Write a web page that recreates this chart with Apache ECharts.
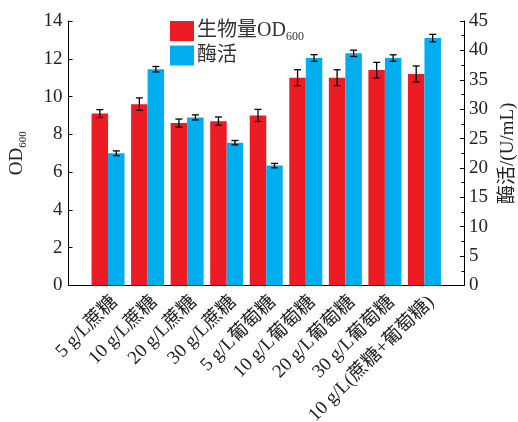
<!DOCTYPE html>
<html>
<head>
<meta charset="utf-8">
<script src="https://cdn.jsdelivr.net/npm/echarts@6/dist/echarts.min.js"></script>
<style>html,body{margin:0;padding:0;background:#fff;}#c{width:518px;height:422px;}</style>
</head>
<body>
<div id="c"></div>
<script>
const categories = ['5 g/L蔗糖','10 g/L蔗糖','20 g/L蔗糖','30 g/L蔗糖','5 g/L葡萄糖','10 g/L葡萄糖','20 g/L葡萄糖','30 g/L葡萄糖','10 g/L(蔗糖+葡萄糖)'];
const od600 = [9.1, 9.6, 8.6, 8.7, 9.0, 11.0, 11.0, 11.4, 11.2];
const od600Err = [0.21, 0.33, 0.21, 0.22, 0.32, 0.42, 0.42, 0.41, 0.42];
const enzyme = [22.5, 36.8, 28.6, 24.3, 20.4, 38.7, 39.5, 38.7, 42.1];
const enzymeErr = [0.4, 0.46, 0.43, 0.37, 0.37, 0.57, 0.54, 0.55, 0.63];
const leftTicks = {min: 0, max: 14, interval: 2};
const rightTicks = {min: 0, max: 45, interval: 5};

const FONT = '"Liberation Serif", "Noto Sans CJK SC", serif';
const TXT = '#222';
const RED = '#ED1C24', BLUE = '#00AEEF';
const BW = 16.5;

const xData = [''].concat(categories, ['']);
const odData = [null].concat(od600, [null]);
const enData = [null].concat(enzyme, [null]);

function errData(vals, errs) {
  return vals.map((v, i) => [i + 1, v, errs[i]]);
}
function errRender(offset) {
  return function (params, api) {
    const x = api.value(0), v = api.value(1), e = api.value(2);
    const hi = api.coord([x, v + e]);
    const lo = api.coord([x, v - e]);
    const cx = hi[0] + offset;
    const cap = 3.5;
    const st = {stroke: '#000', lineWidth: 1.3};
    return {type: 'group', children: [
      {type: 'line', shape: {x1: cx, y1: hi[1], x2: cx, y2: lo[1]}, style: st},
      {type: 'line', shape: {x1: cx - cap, y1: hi[1], x2: cx + cap, y2: hi[1]}, style: st},
      {type: 'line', shape: {x1: cx - cap, y1: lo[1], x2: cx + cap, y2: lo[1]}, style: st}
    ]};
  };
}

const chart = echarts.init(document.getElementById('c'), null, {renderer: 'canvas'});
chart.setOption({
  animation: false,
  textStyle: {fontFamily: FONT, color: TXT},
  grid: {left: 68.5, right: 54, top: 21, bottom: 136.5, containLabel: false, outerBoundsMode: 'none'},
  legend: {
    orient: 'vertical', left: 165, top: 16, itemWidth: 24, itemHeight: 20, itemGap: 3,
    icon: 'rect',
    data: ['生物量OD600', '酶活'],
    formatter: function (n) { return n === '生物量OD600' ? '{a|生物量OD}{s|600}' : '{a|' + n + '}'; },
    textStyle: {
      fontFamily: FONT, color: '#333', padding: [0, 0, 0, -2],
      rich: {
        a: {fontFamily: FONT, fontSize: 20, color: '#333'},
        s: {fontFamily: FONT, fontSize: 12, color: '#333', padding: [11, 0, 0, 0]}
      }
    }
  },
  xAxis: {
    type: 'category', data: xData, boundaryGap: false,
    axisLine: {lineStyle: {color: '#000', width: 1}},
    axisTick: {show: false},
    axisLabel: {interval: 0, rotate: 45, fontSize: 19, color: TXT, fontFamily: FONT, margin: 7, verticalAlign: 'top'}
  },
  yAxis: [
    {
      type: 'value', min: leftTicks.min, max: leftTicks.max, interval: leftTicks.interval,
      name: '{a|OD}{s|600}', nameLocation: 'middle', nameRotate: 90, nameGap: 40,
      nameTextStyle: {rich: {a: {fontFamily: FONT, fontSize: 19, color: TXT}, s: {fontFamily: FONT, fontSize: 11, color: TXT, padding: [11, 0, 0, 0]}}},
      axisLine: {show: true, lineStyle: {color: '#000', width: 1}},
      axisTick: {show: true, inside: true, length: 4, lineStyle: {color: '#000'}},
      axisLabel: {fontSize: 19, color: TXT, fontFamily: FONT, margin: 6},
      splitLine: {show: false}
    },
    {
      type: 'value', min: rightTicks.min, max: rightTicks.max, interval: rightTicks.interval,
      position: 'right',
      name: '酶活/(U/mL)', nameLocation: 'middle', nameRotate: 90, nameGap: 35, nameMoveOverlap: false,
      nameTextStyle: {fontFamily: FONT, fontSize: 19, color: TXT},
      axisLine: {show: true, lineStyle: {color: '#000', width: 1}},
      axisTick: {show: true, inside: true, length: 4, lineStyle: {color: '#000'}},
      minorTick: {show: true, splitNumber: 2, length: 2.5, lineStyle: {color: '#000'}},
      axisLabel: {fontSize: 19, color: TXT, fontFamily: FONT, margin: 5},
      splitLine: {show: false}
    }
  ],
  series: [
    {name: '生物量OD600', type: 'bar', yAxisIndex: 0, data: odData, barWidth: BW, barGap: '0%', itemStyle: {color: RED}},
    {name: '酶活', type: 'bar', yAxisIndex: 1, data: enData, barWidth: BW, barGap: '0%', itemStyle: {color: BLUE}},
    {type: 'custom', yAxisIndex: 0, data: errData(od600, od600Err), renderItem: errRender(-BW / 2), z: 10, silent: true},
    {type: 'custom', yAxisIndex: 1, data: errData(enzyme, enzymeErr), renderItem: errRender(BW / 2), z: 10, silent: true}
  ]
});
</script>
</body>
</html>
